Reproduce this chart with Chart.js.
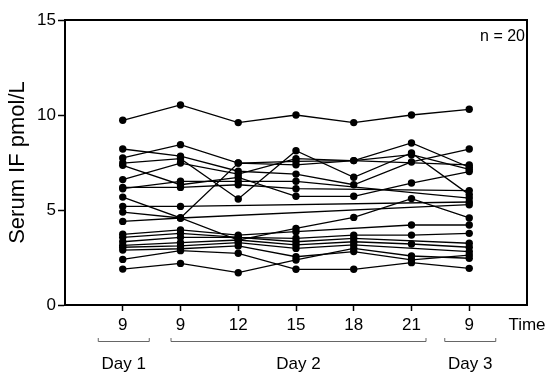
<!DOCTYPE html>
<html>
<head>
<meta charset="utf-8">
<script src="https://cdn.jsdelivr.net/npm/chart.js@4.4.1/dist/chart.umd.min.js"></script>
<style>
  html, body { margin: 0; padding: 0; background: #fff; }
  #wrap { width: 550px; height: 376px; position: relative; }
</style>
</head>
<body>
<div id="wrap"><canvas id="c" width="550" height="376"></canvas></div>
<script>
// ---- data ----
const timeLabels = ['9', '9', '12', '15', '18', '21', '9'];
const axisEndLabel = 'Time';
const dayNames = ['Day 1', 'Day 2', 'Day 3'];
const dayFirstIndex = [0, 1, 6];
const dayLastIndex = [0, 5, 6];
const sampleSize = 'n = 20';
const yTicks = [0, 5, 10, 15];

const s01 = [9.72, 10.53, 9.60, 10.00, 9.60, 10.00, 10.30];
const s02 = [8.21, 7.83, 7.04, 6.89, 6.33, 7.53, 8.21];
const s03 = [7.74, 8.44, 7.47, 7.56, 7.60, 8.53, 7.25];
const s04 = [7.47, 7.70, 5.58, 8.12, 6.72, 8.00, 5.81];
const s05 = [7.35, 6.33, 6.72, 5.72, 5.72, 6.42, 7.02];
const s06 = [6.60, 7.47, 6.89, 7.70, null, null, 7.37];
const s07 = [6.19, 6.19, 6.33, 6.12, null, null, 6.02];
const s08 = [6.12, 6.51, 6.51, 6.51, null, null, 5.63];
const s09 = [5.68, 4.58, 7.47, 7.38, 7.60, 7.91, 7.14];
const s10 = [5.19, 5.19, null, null, null, null, 5.42];
const s11 = [4.89, 4.58, null, null, null, null, 5.28];
const s12 = [4.40, 4.58, 3.42, 4.03, 4.61, 5.60, 4.58];
const s13 = [3.72, 3.95, 3.68, 3.86, null, 4.21, 4.21];
const s14 = [3.56, 3.77, 3.56, 3.51, 3.68, 3.68, 3.77];
const s15 = [3.33, 3.56, 3.56, 3.33, 3.51, null, 3.25];
const s16 = [3.14, 3.28, 3.42, 3.16, 3.33, 3.21, 3.04];
const s17 = [3.04, 3.11, 3.28, 2.98, 3.16, null, 2.81];
const s18 = [2.89, 2.96, 3.11, 2.54, 2.81, 2.37, 2.63];
const s19 = [2.40, 2.86, 2.72, 1.88, 1.88, 2.23, 1.93];
const s20 = [1.89, 2.19, 1.70, 2.37, 2.98, 2.58, 2.46];
const subjects = [s01, s02, s03, s04, s05, s06, s07, s08, s09, s10,
                  s11, s12, s13, s14, s15, s16, s17, s18, s19, s20];

// ---- chart ----
const FONT = 'Arial, "Liberation Sans", Helvetica, sans-serif';
const allLabels = [''].concat(timeLabels, [axisEndLabel]);

const datasets = subjects.map((vals, i) => ({
  label: 'Subject ' + (i + 1),
  data: [null].concat(vals, [null]),
  borderColor: '#000',
  backgroundColor: '#000',
  borderWidth: 1.3,
  pointRadius: 3.7,
  pointHoverRadius: 3.7,
  pointBorderWidth: 0,
  spanGaps: true,
  tension: 0,
  fill: false
}));

const decorations = {
  id: 'decorations',
  afterDraw(chart) {
    const ctx = chart.ctx;
    const a = chart.chartArea;
    const xs = chart.scales.x;
    ctx.save();
    // frame (top and right)
    ctx.strokeStyle = '#000';
    ctx.lineWidth = 2;
    ctx.beginPath();
    ctx.moveTo(a.left, a.top);
    ctx.lineTo(a.right, a.top);
    ctx.lineTo(a.right, a.bottom);
    ctx.stroke();
    // n label
    ctx.fillStyle = '#000';
    ctx.font = '16px ' + FONT;
    ctx.textAlign = 'right';
    ctx.textBaseline = 'middle';
    ctx.fillText(sampleSize, a.right - 2, a.top + 17);
    // day brackets
    const by = 341;
    ctx.strokeStyle = '#666';
    ctx.lineWidth = 1;
    ctx.font = '17px ' + FONT;
    ctx.textAlign = 'center';
    ctx.fillStyle = '#000';
    dayNames.forEach((name, k) => {
      const x0 = xs.getPixelForValue(dayFirstIndex[k] + 1);
      const x1 = xs.getPixelForValue(dayLastIndex[k] + 1);
      let l, r;
      if (dayFirstIndex[k] === dayLastIndex[k]) { l = x0 - 25; r = x1 + 27; }
      else { l = x0 - 10; r = x1 + 15; }
      ctx.beginPath();
      ctx.moveTo(l + 0.5, by - 3);
      ctx.lineTo(l + 0.5, by + 0.5);
      ctx.lineTo(r - 0.5, by + 0.5);
      ctx.lineTo(r - 0.5, by - 3);
      ctx.stroke();
      ctx.fillText(name, (l + r) / 2, by + 23);
    });
    ctx.restore();
  }
};

new Chart(document.getElementById('c'), {
  type: 'line',
  data: { labels: allLabels, datasets },
  options: {
    responsive: false,
    animation: false,
    devicePixelRatio: 1,
    layout: { padding: { left: 0, right: 23, top: 20, bottom: 0 } },
    plugins: { legend: { display: false }, tooltip: { enabled: false } },
    scales: {
      x: {
        type: 'category',
        offset: false,
        grid: {
          drawOnChartArea: false,
          tickLength: 6,
          tickWidth: 1.5,
          tickColor: (c) => (c.index === 0 || c.index === allLabels.length - 1) ? 'rgba(0,0,0,0)' : '#000'
        },
        border: { display: true, color: '#000', width: 2 },
        ticks: {
          autoSkip: false,
          maxRotation: 0,
          color: '#000',
          padding: 4,
          font: { family: FONT, size: 17 }
        },
        afterFit(scale) { scale.height = 71; }
      },
      y: {
        min: 0,
        max: 15,
        afterBuildTicks(scale) { scale.ticks = yTicks.map(v => ({ value: v })); },
        grid: { drawOnChartArea: false, tickLength: 7, tickWidth: 1.5, tickColor: '#000' },
        border: { display: true, color: '#000', width: 2 },
        ticks: { color: '#000', padding: 2, font: { family: FONT, size: 17 } },
        title: {
          display: true,
          text: 'Serum IF pmol/L',
          color: '#000',
          padding: { top: 5, bottom: 0 },
          font: { family: FONT, size: 22 }
        },
        afterFit(scale) { scale.width = 65; }
      }
    }
  },
  plugins: [decorations]
});
</script>
</body>
</html>
